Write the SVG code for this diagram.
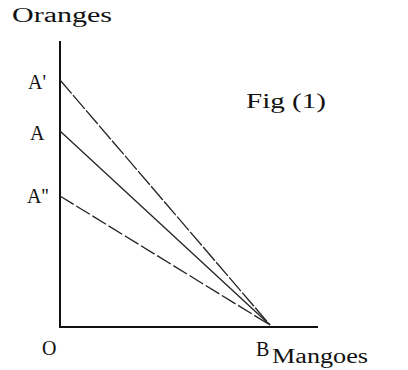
<svg xmlns="http://www.w3.org/2000/svg" width="408" height="370" viewBox="0 0 408 370">
<style>
text{font-family:"Liberation Serif","DejaVu Serif",serif;font-size:20px;fill:#111}
.ax{stroke:#111;stroke-width:2;fill:none}
.ln{stroke:#222;stroke-width:1.3;fill:none}
</style>
<rect width="408" height="370" fill="#fff"/>
<g id="connectors">
<line id="yaxis" class="ax" x1="60" y1="41" x2="60" y2="328"/>
<line id="xaxis" class="ax" x1="60" y1="327" x2="318" y2="327" stroke-width="1.6"/>
<line id="A1B" class="ln" x1="60" y1="80" x2="270" y2="325" stroke-dasharray="18 2"/>
<line id="AB" class="ln" x1="60" y1="131" x2="270" y2="325" stroke-width="1.6"/>
<line id="A2B" class="ln" x1="60" y1="196" x2="270" y2="325" stroke-dasharray="16 3"/>
</g>
<g id="labels">
<text x="12" y="22" textLength="100" lengthAdjust="spacingAndGlyphs">Oranges</text>
<text x="28" y="89">A'</text>
<text x="30" y="140">A</text>
<text x="27" y="203">A''</text>
<text x="246" y="108" textLength="80" lengthAdjust="spacingAndGlyphs">Fig (1)</text>
<text x="42" y="355">O</text>
<text x="256" y="356" font-size="17">B</text>
<text x="272" y="363" textLength="96" lengthAdjust="spacingAndGlyphs">Mangoes</text>
</g>
</svg>
